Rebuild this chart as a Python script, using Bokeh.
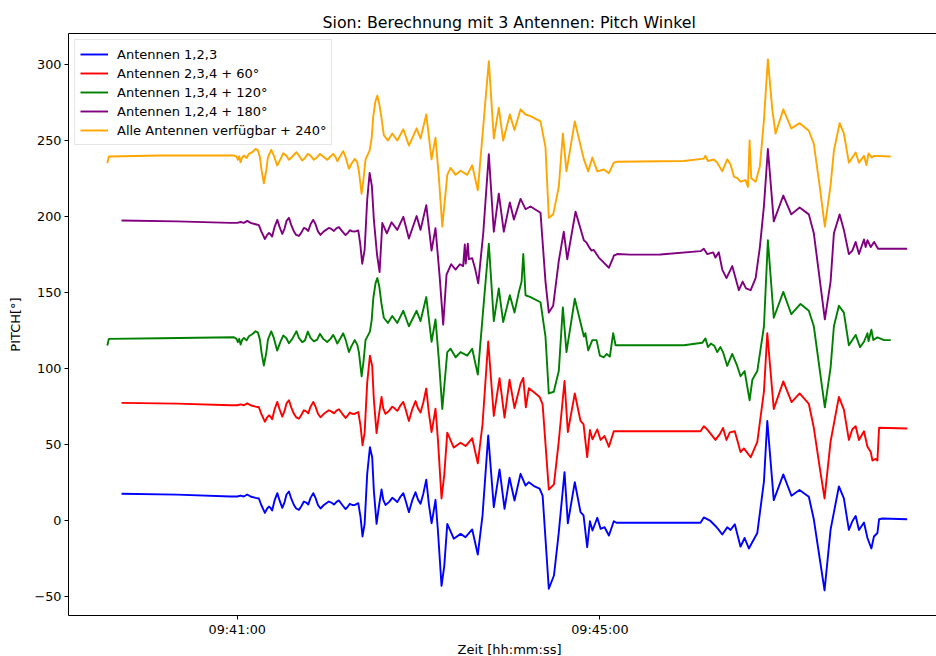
import numpy as np
from bokeh.plotting import figure
from bokeh.models import (Range1d, FixedTicker, DatetimeTickFormatter, LinearAxis,
                          Legend, LegendItem, CustomJSTickFormatter, Title)
from bokeh.embed import file_html
from bokeh.resources import INLINE

# Pitch angle per antenna combination: (seconds after 09:39:00, pitch in degrees)
BLUE = [(43.4, 17.6), (80, 17.0), (115.6, 15.8), (120.0, 15.8), (122.2, 16.4), (124.4, 15.8), (126.6, 17.1),
        (128.8, 15.8), (132.1, 14.9), (134.3, 14.5), (135.9, 10.2), (138.3, 5.0), (139.8, 7.9), (141.0, 9.2),
        (142.0, 8.3), (143.1, 6.6), (144.7, 13.2), (146.5, 18.0), (148.0, 13.2), (149.8, 8.3), (151.3, 12.1),
        (152.6, 17.1), (154.2, 19.1), (155.7, 14.5), (157.5, 10.2), (159.0, 7.9), (160.8, 7.0), (162.3, 9.2),
        (164.1, 12.5), (165.6, 11.8), (167.0, 10.5), (168.5, 14.9), (170.3, 18.0), (171.8, 14.9),
        (173.4, 10.2), (175.1, 7.9), (177.3, 10.2), (180.6, 12.5), (182.2, 11.8), (184.0, 10.5), (185.7, 12.3),
        (187.3, 13.2), (189.5, 10.2), (191.7, 7.5), (193.2, 9.2), (194.5, 11.0), (196.1, 10.2), (197.6, 10.1),
        (200.1, 11.4), (201.6, 2.2), (202.9, -10.5), (204.3, -2.2), (206.0, 30.7), (207.8, 48.2),
        (209.3, 41.6), (210.4, 19.7), (212.2, -2.2), (213.7, 8.8), (215.5, 20.4), (216.6, 13.8), (218.1, 10.2),
        (220.4, 12.1), (222.6, 14.9), (224.1, 13.8), (225.9, 12.1), (228.1, 15.8), (229.9, 18.0), (231.4, 13.2),
        (233.6, 5.5), (235.8, 13.2), (238.0, 18.6), (239.6, 13.8), (241.3, 11.0), (243.1, 17.5), (245.1, 26.8),
        (246.8, 11.0), (248.6, -1.8), (249.7, 4.4), (251.2, 13.6), (252.8, -6.6), (255.2, -43.0),
        (257.0, -30.0), (259.0, -2.2), (263.3, -12.0), (267.8, -8.8), (271.1, -11.0), (275.5, -5.9),
        (279.2, -22.4), (282.3, 3.0), (286.1, 55.9), (289.8, 8.8), (293.6, 33.6), (296.9, 7.7), (300.2, 28.1),
        (303.5, 13.2), (307.5, 30.7), (310.8, 23.0), (313.0, 25.2), (316.8, 22.4), (320.1, 20.9),
        (322.1, 16.4), (326.2, -44.9), (329.6, -36.2), (332.7, -8.8), (336.6, 31.8), (338.8, -1.8),
        (343.4, 25.2), (347.2, 5.5), (349.2, 3.3), (351.6, -17.6), (353.4, -0.5), (355.1, -6.6), (358.3, 1.8),
        (360.5, -5.5), (363.1, -4.4), (366.0, -9.9), (369.2, -0.5), (371.0, -1.5), (426.6, -1.5), (428.8, 2.0),
        (433.2, -0.3), (436.5, -3.6), (438.7, -6.2), (441.0, -9.2), (444.3, -4.5), (446.5, -6.2), (449.3, -2.5),
        (453.1, -17.2), (455.8, -11.5), (458.6, -18.4), (464.2, -8.2), (468.6, 25.8), (470.8, 65.5),
        (475.1, 13.4), (481.4, 30.3), (486.8, 16.3), (492.1, 20.1), (498.3, 15.6), (501.6, 0.8), (505.5, -25.0),
        (508.7, -46.0), (512.7, -6.0), (518.2, 22.4), (521.5, 14.5), (524.8, -6.2), (527.1, -0.5), (529.3, 2.9),
        (531.5, -6.2), (534.8, -1.3), (537.1, -11.5), (539.7, -18.4), (541.4, -10.5), (543.7, -8.2),
        (544.8, 0.8), (547.0, 1.3), (563.4, 0.8)]

RED = [(43.4, 17.4), (80, 16.9), (115.6, 15.8), (120.0, 15.8), (122.2, 16.4), (124.4, 15.8), (126.6, 17.1),
       (128.8, 15.8), (132.1, 14.9), (134.3, 14.5), (135.9, 10.2), (138.3, 5.0), (139.8, 7.9), (141.0, 9.2),
       (142.0, 8.3), (143.1, 6.6), (144.7, 13.2), (146.5, 18.0), (148.0, 13.2), (149.8, 8.3), (151.3, 12.1),
       (152.6, 17.1), (154.2, 19.1), (155.7, 14.5), (157.5, 10.2), (159.0, 7.9), (160.8, 7.0), (162.3, 9.2),
       (164.1, 12.5), (165.6, 11.8), (167.0, 10.5), (168.5, 14.9), (170.3, 18.0), (171.8, 14.9),
       (173.4, 10.2), (175.1, 7.9), (177.3, 10.2), (180.6, 12.5), (182.2, 11.8), (184.0, 10.5), (185.7, 12.3),
       (187.3, 13.2), (189.5, 10.2), (191.7, 7.5), (193.2, 9.2), (194.5, 11.0), (196.1, 10.2), (197.6, 10.1),
       (200.1, 11.4), (201.6, 2.2), (202.9, -10.5), (204.3, -2.2), (206.0, 30.7), (207.8, 48.5),
       (209.3, 41.6), (210.4, 19.7), (212.2, -2.5), (213.7, 9.0), (215.5, 21.3), (216.6, 13.8), (218.1, 10.2),
       (220.4, 12.1), (222.6, 14.9), (224.1, 13.8), (225.9, 12.1), (228.1, 15.8), (229.9, 18.0), (231.4, 13.2),
       (233.6, 5.5), (235.8, 13.2), (238.0, 18.6), (239.6, 13.8), (241.3, 11.0), (243.1, 17.5), (245.1, 26.8),
       (246.8, 11.0), (248.6, -1.8), (249.7, 4.4), (251.2, 13.6), (252.8, -6.6), (255.2, -45.5),
       (257.0, -30.0), (259.0, -2.2), (263.3, -12.0), (267.8, -8.8), (271.1, -11.0), (275.5, -5.9),
       (279.2, -22.4), (282.3, 3.0), (286.1, 57.8), (289.8, 8.8), (293.6, 33.6), (296.9, 7.7), (300.2, 32.6),
       (303.5, 14.0), (307.5, 30.0), (309.3, 33.8), (311.0, 14.5), (313.0, 27.0), (316.8, 24.0),
       (320.1, 21.3), (322.1, 16.4), (326.2, -39.6), (329.6, -36.2), (332.7, -8.8), (336.6, 31.8),
       (338.8, -1.8), (343.4, 23.6), (347.2, 5.5), (349.2, 3.3), (351.6, -18.3), (353.4, -0.5), (355.1, -6.6),
       (358.3, -0.1), (360.5, -7.0), (363.1, -4.4), (366.0, -11.5), (369.2, -1.3), (371.0, -1.3),
       (426.6, -1.3), (428.8, 2.0), (431.0, 0.0), (436.5, -7.0), (439.5, -3.0), (441.5, 0.9), (443.8, -7.0),
       (446.0, -2.0), (449.3, -1.3), (453.1, -15.0), (455.3, -12.6), (459.8, -18.4), (464.2, -8.2),
       (468.6, 25.0), (470.8, 63.2), (475.1, 13.4), (481.4, 31.5), (486.9, 17.9), (492.2, 23.6),
       (498.3, 16.8), (501.6, 1.0), (505.5, -25.0), (508.7, -45.5), (512.7, -8.0), (518.2, 21.3),
       (521.5, 13.0), (524.8, -7.0), (527.1, 0.0), (529.3, 2.0), (531.5, -7.0), (534.8, -1.3), (537.1, -11.5),
       (539.3, -15.0), (540.4, -20.5), (542.6, -19.5), (543.7, -20.5), (544.8, 1.0), (563.4, 0.5)]

GREEN = [(34.0, -4.9), (35.0, -0.5), (69.2, -0.1), (117.8, 0.6), (119.5, -0.5), (120.4, -2.7), (121.3, -0.5),
         (122.2, -4.3), (123.3, -1.0), (124.4, 0.1), (126.2, -1.5), (127.7, 1.2), (129.9, 2.5), (132.1, 4.5),
         (133.7, 3.6), (135.0, -1.0), (136.1, -9.7), (137.6, -18.0), (139.2, -9.7), (140.3, -1.0),
         (142.5, 4.5), (144.2, 0.1), (146.4, -8.2), (148.7, -2.1), (150.4, 1.7), (152.4, 0.1), (154.2, -3.4),
         (156.4, -0.5), (159.2, 4.5), (160.8, 0.1), (163.0, -2.7), (164.8, -1.5), (166.7, 4.3), (168.5, 0.1),
         (170.7, -2.1), (172.9, -1.0), (174.7, 2.8), (176.9, -0.5), (179.5, -2.6), (181.7, -0.5), (183.5, 2.1),
         (185.1, -1.0), (186.2, -3.6), (188.4, 0.1), (190.1, 3.2), (191.7, -1.0), (193.9, -9.2), (195.6, -5.3),
         (197.8, -1.3), (199.4, -4.3), (200.5, -9.2), (202.3, -25.1), (203.6, -15.0), (204.9, -1.3),
         (207.8, 4.3), (209.0, 12.0), (210.0, 25.9), (211.5, 36.0), (212.7, 39.5), (214.0, 34.0),
         (215.3, 23.6), (217.0, 13.4), (219.7, 10.0), (222.6, 14.5), (225.9, 10.0), (229.9, 18.0), (233.6, 7.8),
         (238.7, 18.0), (241.3, 11.2), (245.1, 27.0), (248.6, -2.4), (251.2, 12.3), (253.5, -15.0),
         (255.7, -46.6), (259.0, -9.2), (261.2, -7.0), (264.5, -12.6), (267.8, -9.2), (272.2, -11.5),
         (275.5, -7.0), (279.2, -24.0), (282.8, 19.1), (286.5, 62.1), (289.8, 11.2), (293.1, 32.7),
         (296.0, 10.5), (300.4, 28.2), (303.5, 16.8), (306.4, 30.4), (308.2, 37.2), (309.3, 55.3),
         (310.8, 28.2), (314.1, 27.0), (320.7, 23.6), (324.0, 1.0), (326.2, -36.4), (329.5, -35.3),
         (332.8, -21.7), (335.5, 20.2), (337.9, -9.2), (343.4, 25.9), (349.4, 1.0), (350.4, 3.2), (352.3, -8.1),
         (355.0, -1.3), (357.8, -1.3), (360.0, -11.5), (362.6, -12.6), (364.5, -10.4), (366.6, -12.2),
         (368.8, 3.2), (370.4, -4.7), (380.3, -4.7), (415.6, -4.7), (427.7, -3.1), (429.9, -0.2), (431.5, -5.9),
         (433.5, -3.6), (435.7, -5.0), (437.7, -9.2), (439.8, -5.9), (441.5, -9.2), (444.3, -18.3),
         (447.6, -10.4), (450.9, -18.3), (453.1, -25.1), (455.8, -21.7), (459.1, -40.9), (460.9, -27.4),
         (464.2, -21.7), (468.6, 7.8), (471.2, 64.4), (475.1, 13.4), (481.4, 30.4), (486.7, 15.7),
         (492.8, 22.5), (498.3, 18.0), (501.6, 7.8), (508.9, -45.5), (512.7, -19.4), (514.9, 7.8),
         (518.2, 21.3), (521.5, 16.8), (524.8, -4.7), (529.3, 2.1), (532.2, -5.9), (534.8, -2.4), (537.1, 3.2),
         (537.8, -2.0), (539.7, 5.5), (541.0, -1.3), (543.7, 0.5), (548.1, -1.3), (552.5, -1.3)]

PURPLE = [(43.4, 17.4), (80, 16.8), (115.6, 15.8), (120.0, 15.8), (122.2, 16.4), (124.4, 15.8),
          (126.6, 17.1), (128.8, 15.8), (132.1, 14.9), (134.3, 14.3), (135.9, 10.2), (138.3, 5.2),
          (139.8, 7.9), (141.0, 9.2), (142.0, 8.3), (143.1, 6.8), (144.7, 13.2), (146.5, 17.8), (148.0, 13.2),
          (149.8, 8.5), (151.3, 12.1), (152.6, 17.1), (154.2, 19.1), (155.7, 14.5), (157.5, 10.2), (159.0, 7.9),
          (160.8, 7.2), (162.3, 9.2), (164.1, 12.5), (165.6, 11.8), (167.0, 10.5), (168.5, 14.9), (170.3, 17.8),
          (171.8, 14.9), (173.4, 10.2), (175.1, 7.9), (177.3, 10.2), (180.6, 12.5), (182.2, 11.8),
          (184.0, 10.5), (185.7, 12.3), (187.3, 13.0), (189.5, 10.2), (191.7, 7.8), (193.2, 9.2), (194.5, 11.0),
          (196.1, 10.2), (197.6, 10.1), (200.1, 10.8), (201.4, 2.0), (202.7, -11.1), (204.3, -2.0),
          (206.0, 31.0), (207.6, 48.6), (209.1, 40.0), (210.4, 18.0), (212.5, -5.0), (214.2, -16.6),
          (216.0, 15.7), (219.0, 8.9), (222.1, 16.2), (225.9, 11.2), (229.9, 19.8), (233.6, 5.5),
          (238.7, 20.3), (241.3, 11.2), (245.1, 27.5), (248.6, -2.4), (251.2, 12.3), (254.0, -20.0),
          (256.3, -51.1), (258.5, -18.3), (261.6, -11.4), (264.5, -14.9), (267.3, -11.4), (269.5, -12.6),
          (270.6, 1.6), (271.2, -11.0), (272.6, 2.1), (273.3, -8.0), (275.5, -7.4), (277.3, -13.8),
          (279.5, -24.0), (282.8, 9.0), (286.5, 61.0), (289.8, 10.0), (293.1, 35.0), (296.4, 10.0),
          (300.4, 29.3), (303.1, 18.0), (307.5, 31.6), (310.8, 24.8), (314.1, 26.6), (320.7, 22.5),
          (324.0, -22.8), (326.2, -43.2), (329.1, -38.7), (332.8, -9.2), (336.1, 10.0), (338.4, -8.1),
          (343.9, 23.2), (349.4, 4.4), (351.0, 3.0), (353.4, -1.0), (354.5, -2.4), (356.0, -2.0), (359.3, -7.0),
          (362.6, -10.3), (366.0, -13.7), (368.8, -7.0), (369.2, -5.8), (371.5, -4.7), (380.0, -5.1),
          (400.0, -5.0), (426.6, -2.8), (428.8, -1.2), (431.0, -4.7), (435.0, -3.6), (436.5, -7.0),
          (438.7, -3.5), (441.0, -14.9), (443.8, -20.5), (447.6, -12.6), (452.0, -28.5), (454.5, -22.8),
          (456.7, -27.3), (459.8, -28.5), (463.1, -20.5), (465.9, -0.1), (468.6, 27.0), (471.2, 64.4),
          (475.1, 16.8), (481.4, 33.8), (486.7, 21.4), (492.2, 25.9), (498.3, 21.4), (501.6, 9.0),
          (508.9, -47.7), (512.7, -22.8), (514.9, 9.0), (518.7, 21.4), (521.5, 11.2), (524.8, -4.7),
          (527.1, -2.4), (529.3, 3.3), (531.5, -4.7), (534.8, 4.9), (535.9, -0.1), (537.1, 4.4), (539.3, -0.1),
          (541.5, 3.3), (544.1, -1.2), (563.4, -1.2)]

ALL = [(34.0, -4.9), (35.0, -0.5), (69.2, 0.1), (117.8, 0.1), (119.5, -0.5), (120.4, -2.7), (121.3, -0.5),
       (122.2, -4.3), (123.3, -1.0), (124.4, 0.1), (126.2, -1.5), (127.7, 1.2), (129.9, 2.3), (132.1, 4.5),
       (133.7, 3.4), (135.0, -1.0), (136.1, -9.7), (137.6, -18.1), (139.2, -9.7), (140.3, -1.0), (142.5, 3.9),
       (144.2, 0.1), (146.4, -6.4), (148.7, -2.1), (150.4, 1.6), (152.4, 0.1), (154.2, -2.7), (156.4, -0.5),
       (159.2, 2.3), (160.8, 0.1), (163.0, -3.2), (164.8, -1.5), (166.7, 1.2), (168.5, 0.1), (170.7, -2.7),
       (172.9, -1.0), (174.7, 1.2), (176.9, -0.5), (179.5, -2.7), (181.7, -0.5), (183.5, 1.2), (185.1, -1.0),
       (186.2, -3.6), (188.4, 0.1), (190.1, 3.0), (191.7, -1.0), (193.9, -8.6), (195.6, -5.3), (197.8, -2.1),
       (199.4, -4.3), (200.5, -10.3), (202.3, -25.0), (203.6, -15.0), (204.9, -2.4), (207.6, 3.3),
       (209.0, 12.0), (210.0, 25.9), (211.5, 36.0), (212.7, 39.5), (214.0, 34.0), (215.3, 25.9),
       (217.0, 13.5), (219.7, 10.0), (222.6, 14.6), (225.9, 10.0), (229.9, 17.4), (233.6, 6.7), (238.7, 18.0),
       (241.3, 11.3), (245.1, 27.1), (248.6, -2.4), (251.2, 11.9), (253.5, -15.0), (255.7, -46.6),
       (259.0, -12.6), (261.2, -8.0), (264.5, -12.6), (267.8, -9.9), (272.2, -12.6), (275.5, -6.3),
       (279.2, -22.8), (282.8, 19.2), (286.5, 62.2), (289.8, 11.3), (293.1, 31.6), (296.0, 10.0),
       (300.4, 27.1), (303.5, 16.9), (307.5, 30.5), (310.8, 27.1), (314.1, 26.0), (320.7, 22.6), (324.0, 5.6),
       (326.2, -40.8), (329.1, -38.6), (332.8, -20.5), (335.5, 14.6), (337.9, -10.3), (343.4, 22.6),
       (349.4, -2.4), (352.3, -10.3), (355.0, -1.2), (358.3, -10.3), (362.6, -9.1), (366.0, -11.5),
       (369.2, -4.6), (371.5, -4.0), (415.6, -3.5), (428.8, -1.9), (429.9, -0.1), (431.5, -3.5),
       (435.4, -2.5), (437.7, -4.6), (441.0, -10.3), (444.3, -2.4), (446.5, -5.8), (448.7, -13.7),
       (451.0, -14.8), (453.1, -17.1), (456.4, -16.0), (458.0, -20.5), (459.1, 10.0), (460.2, -14.8),
       (463.1, -17.1), (465.9, -6.9), (468.6, 23.7), (471.2, 63.4), (474.1, 30.5), (476.3, 14.6),
       (481.4, 30.5), (486.7, 18.0), (492.2, 21.4), (498.3, 16.4), (501.6, 7.8), (505.4, -19.3),
       (508.9, -46.6), (512.7, -19.3), (514.9, 3.3), (518.7, 21.4), (521.5, 14.6), (524.8, -4.6),
       (529.3, 2.1), (531.5, -4.6), (534.8, -0.1), (536.4, -6.2), (537.8, 1.5), (540.0, -1.2), (541.5, -0.1),
       (552.5, -0.5)]

# (legend label, colour, display offset in degrees, data)
SERIES = [
    ("Antennen 1,2,3", "blue", 0, BLUE),
    ("Antennen 2,3,4 + 60°", "red", 60, RED),
    ("Antennen 1,3,4 + 120°", "green", 120, GREEN),
    ("Antennen 1,2,4 + 180°", "purple", 180, PURPLE),
    ("Alle Antennen verfügbar + 240°", "orange", 240, ALL),
]

Y_TICKS = [-50, 0, 50, 100, 150, 200, 250, 300]
X_TICKS_SEC = [120, 360]  # 09:41:00 and 09:45:00

START = np.datetime64("2021-06-10T09:39:00")
MS0 = float((START - np.datetime64("1970-01-01T00:00:00")) / np.timedelta64(1, "ms"))


def to_ms(sec):
    return MS0 + np.asarray(sec, dtype=float) * 1000.0


FONT = "DejaVu Sans"

p = figure(width=936, height=656, x_axis_type="datetime", output_backend="svg",
           toolbar_location=None,
           x_range=Range1d(to_ms(8.3), to_ms(582.8)), y_range=Range1d(-62.5, 320.4),
           min_border_left=68, min_border_right=0, min_border_top=33, min_border_bottom=39)

p.title.text = "Sion: Berechnung mit 3 Antennen: Pitch Winkel"
p.title.align = "left"
p.title.offset = 254
p.title.text_font = FONT
p.title.text_font_size = "15.8px"
p.title.text_font_style = "normal"
p.title.text_color = "black"
p.title.standoff = 4

p.outline_line_color = None
p.xgrid.visible = False
p.ygrid.visible = False

xax = p.below[0]
yax = p.left[0]

for ax in (xax, yax):
    ax.axis_line_color = "black"
    ax.axis_line_width = 1
    ax.major_tick_line_color = "black"
    ax.major_tick_out = 4
    ax.major_tick_in = 0
    ax.minor_tick_line_color = None
    ax.major_label_text_font = FONT
    ax.major_label_text_font_size = "12.8px"
    ax.major_label_text_color = "black"
    ax.axis_label_text_font = FONT
    ax.axis_label_text_font_size = "13px"
    ax.axis_label_text_font_style = "normal"
    ax.axis_label_text_color = "black"
    ax.major_label_standoff = 3

xax.major_label_standoff = 2
xax.ticker = FixedTicker(ticks=list(to_ms(X_TICKS_SEC)))
fmt = "%H:%M:%S"
xax.formatter = DatetimeTickFormatter(seconds=fmt, minsec=fmt, minutes=fmt, hourmin=fmt, hours=fmt)

yax.ticker = FixedTicker(ticks=Y_TICKS)
yax.formatter = CustomJSTickFormatter(code="return tick < 0 ? '\u2212' + Math.abs(tick) : String(tick);")
yax.axis_label = "PITCH[°]"
yax.axis_label_standoff = 8

# x-axis caption
p.add_layout(Title(text="Zeit [hh:mm:ss]", align="left", offset=389, text_font=FONT,
                   text_font_size="13px", text_font_style="normal", text_color="black",
                   standoff=0), "below")

# top spine (line only)
top = LinearAxis(ticker=FixedTicker(ticks=[]), axis_line_color="black", axis_line_width=1,
                 major_tick_line_color=None, minor_tick_line_color=None,
                 major_label_text_font_size="0px")
p.add_layout(top, "above")

items = []
for label, color, offset, data in SERIES:
    t = [d[0] for d in data]
    v = [d[1] + offset for d in data]
    r = p.line(to_ms(t), v, line_color=color, line_width=1.9, line_join="round")
    items.append(LegendItem(label=label, renderers=[r]))

legend = Legend(items=items, location="top_left", margin=6, padding=5, spacing=1,
                glyph_width=28, glyph_height=18, label_height=18, label_standoff=9,
                label_text_font=FONT, label_text_font_size="13px", label_text_color="black",
                border_line_color="#cccccc", border_line_width=1,
                background_fill_color="white", background_fill_alpha=0.8)
p.add_layout(legend)

open("out.html", "w").write(file_html(p, INLINE))
